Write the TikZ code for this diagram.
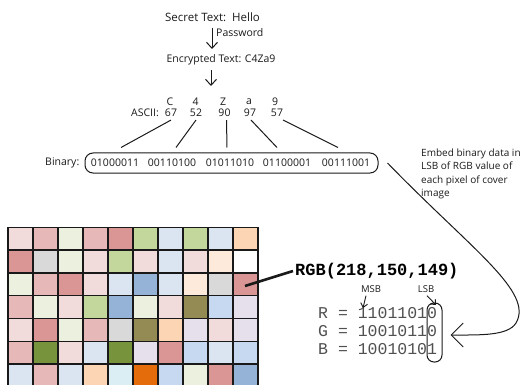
\documentclass[tikz,border=0pt]{standalone}
\usepackage{fontspec}
\setmainfont{Open Sans}
\newfontfamily\monof{Liberation Mono}
\usetikzlibrary{arrows.meta,calc}
\definecolor{lp}{HTML}{F2DCDB}
\definecolor{pk}{HTML}{E6B9B8}
\definecolor{dp}{HTML}{D99694}
\definecolor{lg}{HTML}{EBF1DE}
\definecolor{gn}{HTML}{C3D69B}
\definecolor{dg}{HTML}{77933C}
\definecolor{lb}{HTML}{DBE5F1}
\definecolor{lbb}{HTML}{C6D9F1}
\definecolor{bl}{HTML}{95B3D7}
\definecolor{pc}{HTML}{FCD5B5}
\definecolor{lpc}{HTML}{FDEADA}
\definecolor{gy}{HTML}{D9D9D9}
\definecolor{ol}{HTML}{948A54}
\definecolor{lv}{HTML}{E5E0EC}
\definecolor{cy}{HTML}{DBEEF4}
\definecolor{orng}{HTML}{E46C0A}
\definecolor{wh}{HTML}{FFFFFF}
\definecolor{ink}{HTML}{1A1A1A}
\definecolor{monoink}{HTML}{505050}
\tikzset{
  txt/.style={inner sep=0pt, text=ink},
  big/.style={txt, font=\fontsize{11.5}{13}\selectfont},
  mid/.style={txt, font=\fontsize{10.5}{12}\selectfont},
  tiny/.style={txt, font=\fontsize{9.5}{11}\selectfont},
  monorow/.style={inner sep=0pt, text=monoink, font=\monof\fontsize{16.5}{18}\selectfont, anchor=west},
  arr/.style={draw=ink, line width=1pt, -{Straight Barb[length=6pt,width=11pt]}},
  sarr/.style={draw=ink, line width=0.9pt, -{Straight Barb[length=4pt,width=7pt]}},
  conn/.style={draw=ink, line width=1pt},
  bigarr/.style={draw=ink, line width=1pt, -{Straight Barb[length=12pt,width=24pt]}},
  cell/.style={draw=black!90, line width=1.3pt}
}
\begin{document}
\begin{tikzpicture}[x=1pt,y=-1pt]
\useasboundingbox (0,0) rectangle (530,385);
% top chain
\node[big] (secret) at (212.5,17) {Secret Text:\ \ Hello};
\node[txt, font=\fontsize{10.5}{12}\selectfont, anchor=west] (pw) at (216,33) {Password};
\node[mid] (enc) at (221,60) {Encrypted Text: C4Za9};
\coordinate (a1s) at (212,28);
\coordinate (a1e) at (212,49);
\draw[arr] (a1s) -- (a1e);
\coordinate (a2s) at (211,70);
\coordinate (a2e) at (211,86);
\draw[arr] (a2s) -- (a2e);
% ascii
\node[mid] (l1) at (170,102) {C};
\node[mid] (l2) at (195.5,102) {4};
\node[mid] (l3) at (223,102) {Z};
\node[mid] (l4) at (249,102) {a};
\node[mid] (l5) at (275,102) {9};
\node[mid, anchor=east] (asc) at (159,113) {ASCII:};
\node[mid] (n1) at (171,113) {67};
\node[mid] (n2) at (196,113) {52};
\node[mid] (n3) at (224.5,113) {90};
\node[mid] (n4) at (250,113) {97};
\node[mid] (n5) at (277,113) {57};
% binary
\node[draw=ink, line width=1pt, rounded corners=8pt, minimum width=293pt, minimum height=20pt] (box) at (231.5,163) {};
\node[mid, anchor=west] (binl) at (45,163) {Binary:};
\node[mid] (g1) at (115,163) {01000011};
\node[mid] (g2) at (172,163) {00110100};
\node[mid] (g3) at (230,163) {01011010};
\node[mid] (g4) at (287,163) {01100001};
\node[mid] (g5) at (346,163) {00111001};
\draw[conn] ([yshift=-3pt]n1.south) -- ($(g1.north |- box.north)+(6,-5)$);
\draw[conn] ([yshift=-3pt]n2.south) -- ($(g2.north |- box.north)+(4,-5)$);
\draw[conn] ([xshift=2pt,yshift=-3pt]n3.south) -- ($(g3.north |- box.north)+(-3,-5)$);
\draw[conn] ([xshift=1pt,yshift=-3pt]n4.south) -- ($(g4.north |- box.north)+(-10,-5)$);
\draw[conn] ([xshift=6pt,yshift=-3pt]n5.south) -- ($(g5.north |- box.north)+(-8,-5)$);
% embed label
\node[txt, anchor=north west, align=left, font=\fontsize{10}{13.2}\selectfont] (emb) at (421,149) {Embed binary data in\\LSB of RGB value of\\each pixel of cover\\image};
% grid
\begin{scope}
\clip (0,0) rectangle (530,385);
\foreach \row [count=\i] in {
 {lp,pk,lg,pk,dp,gn,lb,gn,lb,pc},
 {dp,gy,lg,lp,gn,lp,lb,lp,lpc,wh},
 {lg,pk,dp,lp,lb,bl,lb,lpc,gy,dp},
 {pk,lg,lp,gn,bl,lg,lp,ol,lbb,lv},
 {lp,dp,lg,pk,gy,ol,pc,lv,lp,lv},
 {pk,dg,lp,lb,dg,lv,dp,lbb,lb,lbb},
 {lb,pk,lb,pc,cy,orng,lbb,lg,dp,bl}} {
  \foreach \c [count=\j] in \row {
    \filldraw[cell, fill=\c] ({8+25*(\j-1)},{227.3+22.8*(\i-1)}) rectangle ++(25,22.8);
  }
}
\end{scope}
\coordinate (px) at (245,286);
% RGB
\node[inner sep=0pt, anchor=west, text=black, font=\monof\bfseries\fontsize{17}{19}\selectfont] (rgb) at (295,271) {RGB(218,150,149)};
\draw[ink, line width=2.6pt] (px) -- ([xshift=-2pt]rgb.west);
\node[tiny] (msb) at (371,289) {MSB};
\node[tiny] (lsb) at (426,289) {LSB};
\node[monorow] (rr) at (318,313) {R = 11011010};
\node[monorow] (gg) at (318,331) {G = 10010110};
\node[monorow] (bb) at (318,349) {B = 10010101};
\node[draw=ink, line width=1pt, rounded corners=7pt, minimum width=15pt, minimum height=59pt] (lsbbox) at (434.5,332.5) {};
\coordinate (msbt) at (363,308);
\coordinate (lsbt) at (436,305);
\draw[sarr] ([xshift=-5pt,yshift=-3pt]msb.south) -- (msbt);
\draw[sarr] ([xshift=1pt,yshift=-3pt]lsb.south) -- (lsbt);
% big arrow
\draw[bigarr] ([xshift=9pt]box.east) .. controls (472,250) and (534,292) .. (516,323) .. controls (508,336) and (480,335) .. ([xshift=8pt,yshift=-2.5pt]lsbbox.east);
\end{tikzpicture}
\end{document}
